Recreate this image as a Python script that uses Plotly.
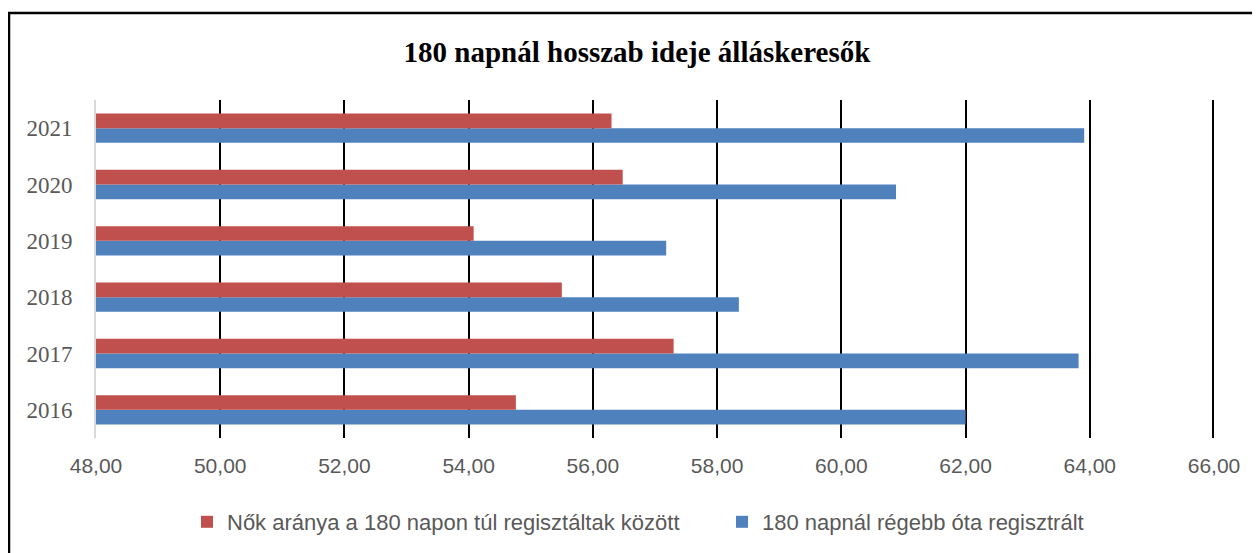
import plotly.graph_objects as go

years = ["2016", "2017", "2018", "2019", "2020", "2021"]
nok_aranya = [54.76, 57.30, 55.50, 54.08, 56.48, 56.30]
regebb_ota = [62.00, 63.82, 58.35, 57.18, 60.88, 63.91]
x_ticks = [48, 50, 52, 54, 56, 58, 60, 62, 64, 66]
x_tick_labels = ["48,00", "50,00", "52,00", "54,00", "56,00", "58,00", "60,00", "62,00", "64,00", "66,00"]

name_red = "Nők aránya a 180 napon túl regisztáltak között"
name_blue = "180 napnál régebb óta regisztrált"
title_text = "180 napnál hosszab ideje álláskeresők"

# page body has an 8px margin, so figure pixel = reference pixel - 8
OFF = 8
W, H = 1260, 553
L, R, T, B = 96 - OFF, 1214 - OFF, 100 - OFF, 438 - OFF

fig = go.Figure()
fig.add_trace(go.Bar(y=years, x=regebb_ota, name=name_blue, orientation="h",
                     marker=dict(color="#4F81BD", line=dict(width=0)), legendrank=2))
fig.add_trace(go.Bar(y=years, x=nok_aranya, name=name_red, orientation="h",
                     marker=dict(color="#C0504D", line=dict(width=0)), legendrank=1))

def px_x(p):
    return (p - OFF - L) / (R - L)

def px_y(p):
    return (B - (p - OFF)) / (B - T)

# outer chart border (only left and top edges fall inside the picture)
fig.add_shape(type="rect", xref="paper", yref="paper",
              x0=px_x(9), x1=px_x(1290), y0=px_y(600), y1=px_y(13),
              line=dict(color="black", width=2.5), fillcolor="rgba(0,0,0,0)", layer="above")

# gridline at the right edge of the range (plotly omits the edge gridline; half is clipped)
fig.add_shape(type="line", xref="x", yref="paper",
              x0=x_ticks[-1], x1=x_ticks[-1], y0=0, y1=1,
              line=dict(color="black", width=4), layer="below")

fig.update_layout(
    width=W, height=H,
    margin=dict(l=L, r=W - R, t=T, b=H - B, pad=0),
    paper_bgcolor="white", plot_bgcolor="white",
    barmode="group", bargap=0.48, bargroupgap=0,
    title=dict(text="<b>" + title_text + "</b>", x=(637 - OFF) / W, xref="container", xanchor="center",
               y=1 - (52 - OFF) / H, yref="container", yanchor="middle",
               font=dict(family="Liberation Serif", size=29, color="black")),
    xaxis=dict(range=[48, 66], tickvals=x_ticks, ticktext=x_tick_labels,
               showgrid=True, gridcolor="black", gridwidth=2, zeroline=False,
               showline=False, ticks="", ticklabelstandoff=13,
               tickfont=dict(family="Liberation Sans", size=21, color="#595959")),
    yaxis=dict(type="category", categoryorder="array", categoryarray=years,
               showgrid=False, zeroline=False, showline=True, linecolor="#D9D9D9", linewidth=2,
               ticks="", ticklabelstandoff=17,
               tickfont=dict(family="Liberation Serif", size=23, color="#595959")),
    legend=dict(orientation="h", x=(187 - OFF) / W, xref="container", xanchor="left",
                y=1 - (522 - OFF) / H, yref="container", yanchor="middle",
                font=dict(family="Liberation Sans", size=22, color="#595959"),
                itemwidth=30, entrywidth=490, entrywidthmode="pixels", traceorder="normal"),
    showlegend=True,
)

fig.write_html("out.html")
